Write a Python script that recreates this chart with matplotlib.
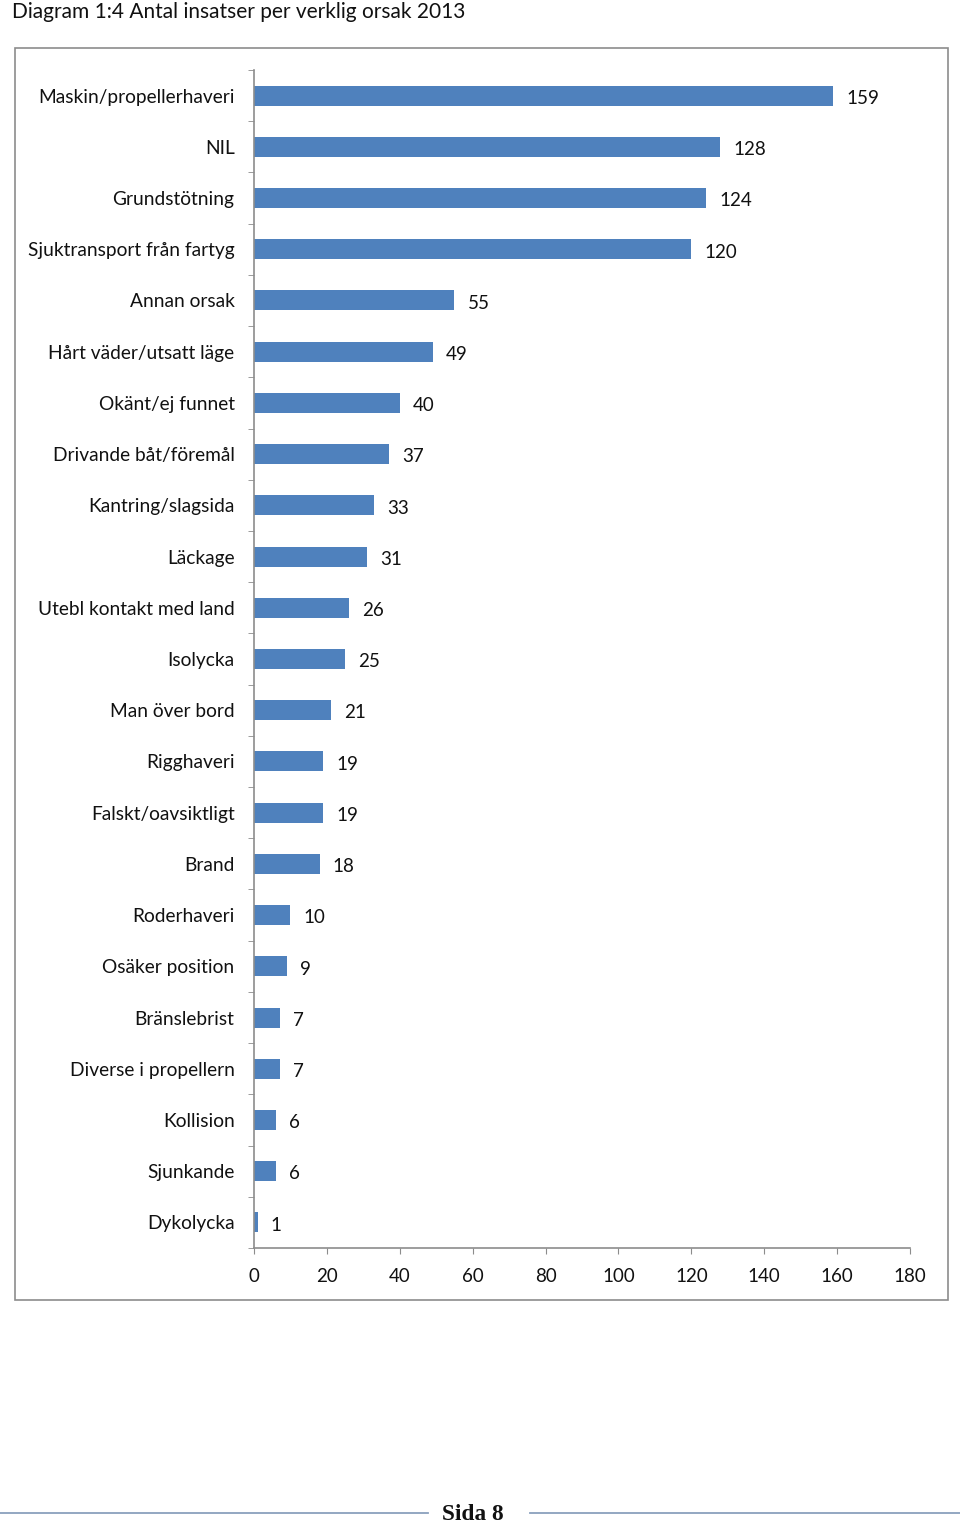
import matplotlib.pyplot as plt
from matplotlib.patches import Rectangle
from matplotlib.lines import Line2D

# data (top to bottom as in the chart)
causes = ["Maskin/propellerhaveri", "NIL", "Grundstötning", "Sjuktransport från fartyg",
          "Annan orsak", "Hårt väder/utsatt läge", "Okänt/ej funnet", "Drivande båt/föremål",
          "Kantring/slagsida", "Läckage", "Utebl kontakt med land", "Isolycka",
          "Man över bord", "Rigghaveri", "Falskt/oavsiktligt", "Brand", "Roderhaveri",
          "Osäker position", "Bränslebrist", "Diverse i propellern", "Kollision",
          "Sjunkande", "Dykolycka"]
counts = [159, 128, 124, 120, 55, 49, 40, 37, 33, 31, 26, 25, 21, 19, 19, 18, 10, 9, 7, 7, 6, 6, 1]
xticks = [0, 20, 40, 60, 80, 100, 120, 140, 160, 180]

plt.rcParams['font.family'] = ['Lato', 'DejaVu Sans']

fig = plt.figure(figsize=(9.6, 15.22), dpi=100)
W, H = 960, 1522

# outer chart border
fig.patches.append(Rectangle((15 / W, 1 - 1300 / H), (948 - 15) / W, (1300 - 48) / H,
                             transform=fig.transFigure, fill=False, edgecolor='#8c8c8c', linewidth=1.2))

fig.text(12 / W, 1 - 12 / H, "Diagram 1:4 Antal insatser per verklig orsak 2013",
         fontsize=15, va='center', ha='left', color='#111111')

ax = fig.add_axes([254 / W, 1 - 1248 / H, (910 - 254) / W, (1248 - 70) / H])
n = len(causes)
ypos = list(range(n))
ax.barh(ypos, counts, height=0.39, color='#4F81BD')
ax.set_ylim(n - 0.5, -0.5)
ax.set_xlim(0, 180)

for y, v in zip(ypos, counts):
    ax.annotate(str(v), (v, y), xytext=(9.5, -2), textcoords='offset points',
                va='center', ha='left', fontsize=13.5, color='#111111')

ax.set_yticks(ypos)
ax.set_yticklabels(causes, fontsize=13.8, color='#111111')
ax.tick_params(axis='y', which='major', length=0, pad=14)
ax.set_yticks([i - 0.5 for i in range(n + 1)], minor=True)
ax.tick_params(axis='y', which='minor', length=4, color='#8c8c8c', direction='out')

ax.set_xticks(xticks)
ax.set_xticklabels([str(t) for t in xticks], fontsize=13.5, color='#111111')
ax.tick_params(axis='x', length=4, color='#8c8c8c', direction='out', pad=10.5)

for s in ['top', 'right']:
    ax.spines[s].set_visible(False)
for s in ['left', 'bottom']:
    ax.spines[s].set_color('#8c8c8c')
    ax.spines[s].set_linewidth(1.2)

# footer
fig.lines.append(Line2D([0, 428 / W], [1 - 1513 / H] * 2, transform=fig.transFigure,
                        color='#8aa0bd', linewidth=1.3))
fig.lines.append(Line2D([530 / W, 1], [1 - 1513 / H] * 2, transform=fig.transFigure,
                        color='#8aa0bd', linewidth=1.3))
fig.text(473 / W, 1 - 1514 / H, "Sida 8", fontsize=16.8, fontweight='bold',
         family=['Liberation Serif', 'DejaVu Serif'], ha='center', va='center', color='#111111')

fig.savefig("out.png", dpi=100)
